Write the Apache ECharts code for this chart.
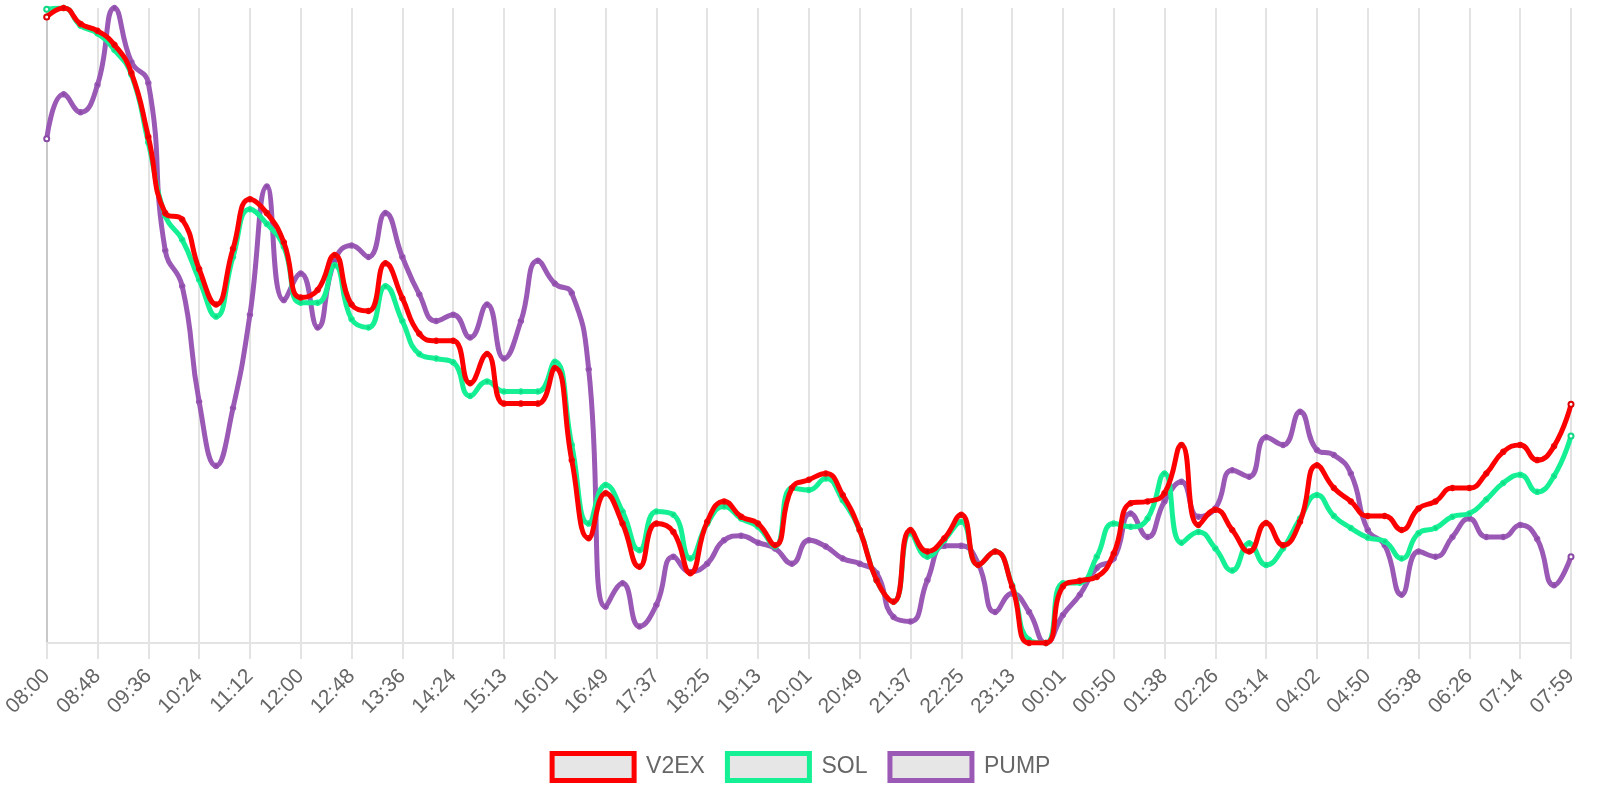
<!DOCTYPE html>
<html>
<head>
<meta charset="utf-8">
<title>V2EX / SOL / PUMP</title>
<script src="https://cdn.jsdelivr.net/npm/echarts@6/dist/echarts.min.js"></script>
<style>
  html, body { margin: 0; padding: 0; background: #fff; }
  #chart { width: 1600px; height: 800px; }
</style>
</head>
<body>
<div id="chart"></div>
<script>
// time of each sample (every ~16 min), labels shown on every 3rd
const times = [
  '08:00','08:16','08:32','08:48','09:04','09:20','09:36','09:52','10:08','10:24',
  '10:40','10:56','11:12','11:28','11:44','12:00','12:16','12:32','12:48','13:04',
  '13:20','13:36','13:52','14:08','14:24','14:40','14:56','15:13','15:29','15:45',
  '16:01','16:17','16:33','16:49','17:05','17:21','17:37','17:53','18:09','18:25',
  '18:41','18:57','19:13','19:29','19:45','20:01','20:17','20:33','20:49','21:05',
  '21:21','21:37','21:53','22:09','22:25','22:41','22:57','23:13','23:29','23:45',
  '00:01','00:17','00:34','00:50','01:06','01:22','01:38','01:54','02:10','02:26',
  '02:42','02:58','03:14','03:30','03:46','04:02','04:18','04:34','04:50','05:06',
  '05:22','05:38','05:54','06:10','06:26','06:42','06:58','07:14','07:29','07:44',
  '07:59'
];

// normalised values (0 = lowest, 100 = highest of each series)
const v2ex = [
  98.6, 100, 97.5, 96.4, 94.2, 89.8, 79.7, 67.7, 66.7, 58.9,
  53.3, 62.1, 69.9, 67.7, 63.1, 54.4, 55.6, 61.1, 53.3, 52.3,
  59.8, 54.3, 48.7, 47.6, 47.6, 40.9, 45.5, 37.7, 37.7, 37.7,
  43.3, 28.8, 16.5, 23.6, 18.8, 12.0, 18.8, 17.5, 11.0, 19.1,
  22.3, 19.9, 18.8, 15.4, 24.4, 25.7, 26.7, 23.3, 17.8, 9.9,
  6.5, 17.8, 14.4, 16.5, 20.2, 12.3, 14.4, 8.9, 0, 0,
  8.9, 9.8, 10.4, 14.1, 22.0, 22.3, 23.6, 31.2, 18.6, 21.0,
  17.8, 14.4, 18.9, 15.4, 19.1, 28.0, 24.4, 22.3, 20.0, 20.0,
  17.8, 21.2, 22.3, 24.4, 24.4, 26.7, 30.1, 31.2, 28.8, 31.0,
  37.6
];
const sol = [
  99.8, 100, 97.2, 96.0, 93.4, 89.5, 78.8, 67.3, 63.5, 57.2,
  51.4, 60.8, 68.3, 66.0, 62.4, 53.6, 53.6, 59.5, 51.0, 49.7,
  56.2, 50.7, 45.5, 44.8, 44.2, 38.9, 41.2, 39.6, 39.6, 39.6,
  44.3, 31.2, 18.8, 24.9, 20.7, 14.6, 20.7, 20.2, 13.3, 18.8,
  21.5, 19.6, 18.3, 15.2, 24.4, 24.1, 25.9, 22.5, 17.8, 9.9,
  6.5, 17.3, 13.6, 16.2, 19.1, 12.3, 14.4, 9.1, 0.5, 0,
  9.4, 9.5, 13.6, 18.8, 18.3, 19.6, 26.7, 15.8, 17.5, 14.9,
  11.4, 15.7, 12.3, 14.9, 19.6, 23.3, 20.0, 18.1, 16.6, 16.0,
  13.3, 17.3, 18.1, 19.9, 20.4, 22.6, 25.2, 26.5, 23.8, 26.3,
  32.6
];
const pump = [
  79.4, 86.4, 83.6, 87.9, 100, 91.5, 88.2, 61.8, 56.2, 38.0,
  27.9, 37.0, 51.7, 71.9, 54.0, 58.2, 49.7, 60.2, 62.6, 60.8,
  67.7, 60.8, 54.9, 50.7, 51.7, 48.1, 53.3, 44.8, 50.7, 60.2,
  56.6, 55.1, 43.1, 5.7, 9.4, 2.6, 6.0, 13.6, 11.2, 12.5,
  16.2, 16.9, 15.8, 14.9, 12.5, 16.2, 15.2, 13.3, 12.5, 11.0,
  4.1, 3.4, 9.9, 15.3, 15.3, 12.5, 4.9, 7.8, 4.9, 0,
  4.4, 7.6, 11.8, 13.3, 20.4, 16.7, 22.3, 25.4, 19.9, 21.2,
  27.2, 26.2, 32.4, 31.2, 36.4, 30.4, 29.6, 26.7, 17.8, 15.4,
  7.6, 14.4, 13.6, 16.7, 19.6, 16.7, 16.7, 18.6, 16.4, 9.1,
  13.6
];

const names = ['V2EX', 'SOL', 'PUMP'];
const colors = ['#ff0000', '#15f095', '#9b59b6'];
const dotColors = ['#dd0000', '#10d884', '#8a4aa6'];

const last = times.length - 1;
function makeSeries(name, data, i) {
  return {
    name: name,
    type: 'line',
    data: data,
    smooth: 0.5,
    z: 5 - i,
    showAllSymbol: true,
    symbol: (v, p) => (p.dataIndex === 0 || p.dataIndex === last) ? 'emptyCircle' : 'circle',
    symbolSize: 5,
    lineStyle: {width: 5, color: colors[i]},
    itemStyle: {color: dotColors[i], borderColor: colors[i], borderWidth: 1.5},
    emphasis: {disabled: true}
  };
}

let myChart = echarts.init(document.getElementById('chart'));
myChart.setOption({
  animation: false,
  textStyle: {fontFamily: 'Liberation Sans, Arial, sans-serif'},
  grid: {left: 45, right: 29, top: 8, bottom: 157},
  legend: {
    bottom: 12,
    left: 'center',
    icon: 'rect',
    itemWidth: 82,
    itemHeight: 27,
    itemGap: 20,
    textStyle: {fontSize: 23, color: '#666', padding: [0, 0, 0, 7]},
    data: names.map((n, i) => ({
      name: n,
      itemStyle: {color: '#e6e6e6', borderColor: colors[i], borderWidth: 5}
    }))
  },
  xAxis: {
    type: 'category',
    boundaryGap: false,
    data: times,
    axisLine: {lineStyle: {color: '#e3e3e3', width: 2}},
    axisTick: {interval: 2, length: 16, lineStyle: {color: '#e3e3e3', width: 2}},
    axisLabel: {interval: 2, rotate: 45, margin: 30, fontSize: 21, color: '#666'},
    splitLine: {show: true, interval: 2, lineStyle: {color: '#e3e3e3', width: 2}}
  },
  yAxis: {
    type: 'value',
    min: 0,
    max: 100,
    axisLine: {show: true, lineStyle: {color: '#c8c8c8', width: 2}},
    axisTick: {show: false},
    axisLabel: {show: false},
    splitLine: {show: false}
  },
  series: [
    makeSeries('V2EX', v2ex, 0),
    makeSeries('SOL', sol, 1),
    makeSeries('PUMP', pump, 2)
  ]
});
</script>
</body>
</html>
